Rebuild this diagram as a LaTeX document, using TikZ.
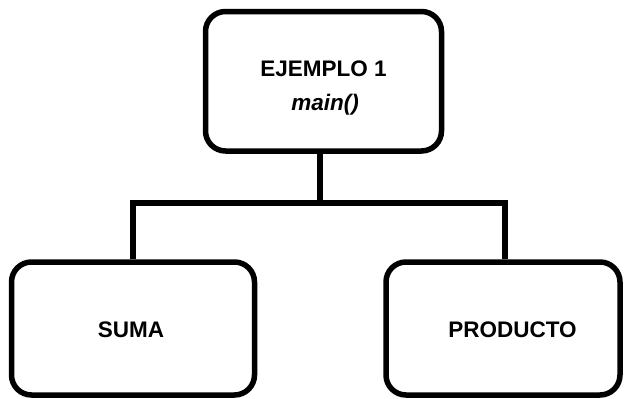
\documentclass[tikz,border=0pt]{standalone}
\usepackage{fontspec}
\setmainfont{Liberation Sans}
\begin{document}
\begin{tikzpicture}[x=1pt,y=-1pt,
  box/.style={draw=black,line width=5.5pt,rounded corners=20pt,inner sep=0pt},
  lbl/.style={anchor=base,inner sep=0pt,font=\fontsize{22.5}{27}\selectfont\bfseries},
  conn/.style={draw=black,line width=5.5pt,line join=miter}]
\useasboundingbox (0,0) rectangle (625,399);
\node[box,minimum width=236pt,minimum height=139.5pt] (top) at (323.5,81.25) {};
\node[box,minimum width=243pt,minimum height=133pt] (suma) at (133,328.5) {};
\node[box,minimum width=234pt,minimum height=133pt] (prod) at (503,328.5) {};
\node[lbl] (t1) at (323.5,76) {EJEMPLO 1};
\node[lbl,font=\fontsize{22.5}{27}\selectfont\bfseries\itshape] (t2) at (325,110) {main()};
\node[lbl] (s1) at (131,337.5) {SUMA};
\node[lbl] (p1) at (512.5,337.5) {PRODUCTO};
\coordinate (t) at (320,151);
\coordinate (j) at (320,203);
\coordinate (l) at (133,203);
\coordinate (r) at (505,203);
\draw[conn] (t) -- (j);
\draw[conn] (l |- suma.north) -- (l) -- (r) -- (r |- prod.north);
\end{tikzpicture}
\end{document}
